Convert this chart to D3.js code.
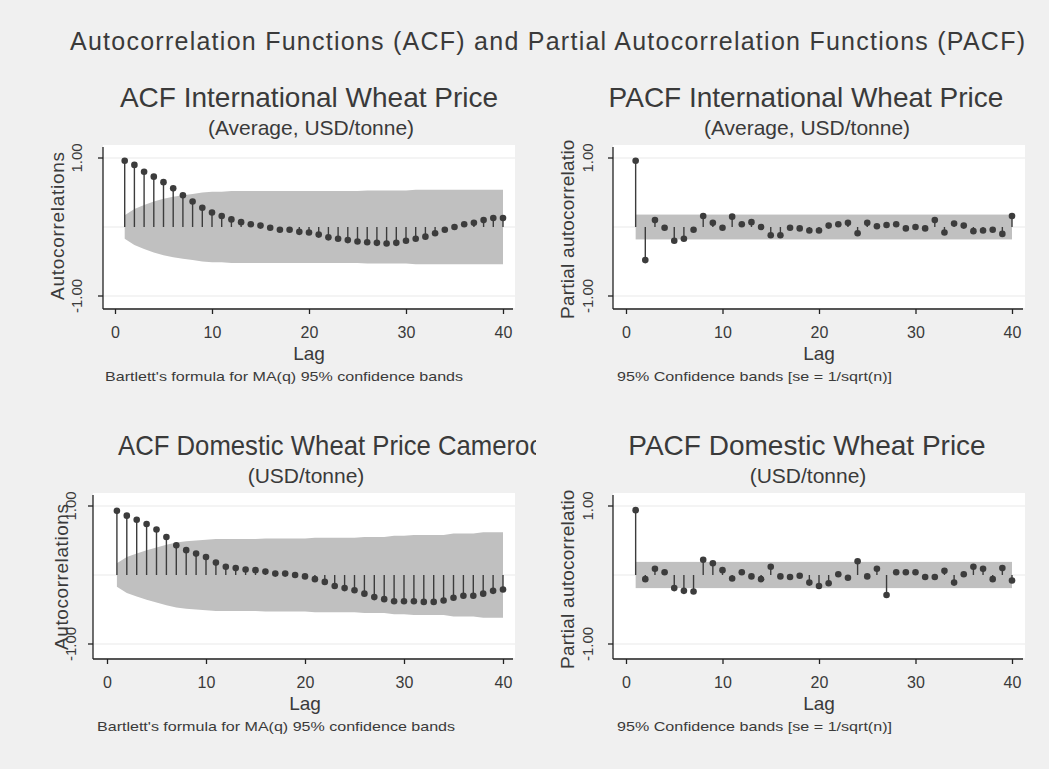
<!DOCTYPE html>
<html>
<head>
<meta charset="utf-8">
<script src="https://cdn.jsdelivr.net/npm/d3@7"></script>
<style>
  body { margin: 0; background: #f0f0f0; }
  svg { display: block; font-family: "Liberation Sans", Arial, sans-serif; }
</style>
</head>
<body>
<div id="chart"></div>
<script>
// ---- data ----
const lags = [1,2,3,4,5,6,7,8,9,10,11,12,13,14,15,16,17,18,19,20,
              21,22,23,24,25,26,27,28,29,30,31,32,33,34,35,36,37,38,39,40];

const acfIntl = [0.96,0.90,0.80,0.73,0.65,0.56,0.46,0.37,0.28,0.21,
                 0.16,0.11,0.07,0.04,0.02,-0.01,-0.04,-0.04,-0.07,-0.08,
                 -0.11,-0.15,-0.17,-0.19,-0.21,-0.22,-0.23,-0.24,-0.23,-0.20,
                 -0.17,-0.14,-0.09,-0.04,0.00,0.04,0.06,0.10,0.13,0.13];
const bandIntl = [0.17,0.26,0.32,0.37,0.41,0.44,0.46,0.48,0.50,0.51,
                  0.51,0.52,0.52,0.52,0.52,0.52,0.52,0.52,0.52,0.52,
                  0.52,0.52,0.52,0.52,0.52,0.53,0.53,0.53,0.53,0.53,
                  0.54,0.54,0.54,0.54,0.54,0.54,0.54,0.54,0.54,0.54];

const pacfIntl = [0.96,-0.48,0.10,-0.01,-0.20,-0.17,-0.04,0.16,0.06,-0.01,
                  0.15,0.04,0.07,0.00,-0.12,-0.12,-0.01,-0.02,-0.05,-0.05,
                  0.02,0.04,0.06,-0.09,0.06,0.01,0.03,0.04,-0.02,0.00,
                  -0.02,0.10,-0.08,0.05,0.02,-0.06,-0.05,-0.04,-0.10,0.16];
const pacfBandIntl = 0.18;

const acfDom = [0.93,0.86,0.80,0.74,0.66,0.55,0.43,0.36,0.31,0.26,
                0.18,0.12,0.10,0.08,0.07,0.05,0.02,0.02,0.00,-0.02,
                -0.06,-0.10,-0.16,-0.19,-0.22,-0.27,-0.32,-0.35,-0.38,-0.38,
                -0.38,-0.39,-0.39,-0.37,-0.33,-0.30,-0.30,-0.27,-0.23,-0.21];
const bandDom = [0.17,0.26,0.31,0.36,0.40,0.44,0.47,0.49,0.50,0.51,
                 0.52,0.52,0.52,0.52,0.52,0.53,0.53,0.53,0.53,0.53,
                 0.54,0.54,0.54,0.54,0.54,0.55,0.55,0.55,0.57,0.57,
                 0.58,0.58,0.58,0.58,0.60,0.60,0.60,0.62,0.62,0.62];

const pacfDom = [0.94,-0.06,0.09,0.04,-0.19,-0.23,-0.24,0.22,0.17,0.07,
                 -0.05,0.04,-0.02,-0.06,0.12,-0.02,-0.03,-0.01,-0.11,-0.16,
                 -0.12,0.01,-0.04,0.20,-0.02,0.09,-0.29,0.04,0.04,0.04,
                 -0.03,-0.03,0.06,-0.11,0.01,0.12,0.09,-0.06,0.10,-0.08];
const pacfBandDom = 0.19;

const xTicks = [0, 10, 20, 30, 40];
const yTicks = [-1, 1];
const yTickLabels = ['-1.00', '1.00'];
const gridVals = [-1, 0, 1];

const mainTitle = 'Autocorrelation Functions (ACF) and Partial Autocorrelation Functions (PACF)';
const noteACF = "Bartlett's formula for MA(q) 95% confidence bands";
const notePACF = '95% Confidence bands [se = 1/sqrt(n)]';

// ---- layout ----
const W = 1049, H = 769;
const INK = '#3a3a3a', MARK = '#3c3c3c', BAND = '#c0c0c0', AX = '#222';

const svg = d3.select('#chart').append('svg').attr('width', W).attr('height', H);
svg.append('rect').attr('width', W).attr('height', H).attr('fill', '#f0f0f0');
const defs = svg.append('defs');

svg.append('text')
  .attr('x', 70).attr('y', 50)
  .attr('textLength', 955).attr('lengthAdjust', 'spacing')
  .attr('font-size', 25).attr('fill', INK)
  .text(mainTitle);

// each panel: plot box, scale ranges and where its labels sit
const panels = [
  { id: 'p1', kind: 'acf', vals: acfIntl, band: bandIntl,
    box: [103, 145, 515, 308], xr: [115, 503], yr: [296, 158],
    title: 'ACF International Wheat Price', titleX: 309, sub: '(Average, USD/tonne)', subX: 311,
    ytitle: 'Autocorrelations', ytLen: 148, ytX: 57, ytY: 226, tickX: 77,
    note: noteACF, noteX: 105, noteLen: 358, clip: [0, 140, 536, 400] },
  { id: 'p2', kind: 'pacf', vals: pacfIntl, band: pacfBandIntl,
    box: [613, 145, 1025, 308], xr: [626, 1012], yr: [296, 158],
    title: 'PACF International Wheat Price', titleX: 806, sub: '(Average, USD/tonne)', subX: 807,
    ytitle: 'Partial autocorrelations', ytLen: 200, ytX: 567, ytY: 219, tickX: 588,
    note: notePACF, noteX: 617, noteLen: 275, clip: [540, 140, 1049, 400] },
  { id: 'p3', kind: 'acf', vals: acfDom, band: bandDom,
    box: [93, 493, 515, 658], xr: [107, 503], yr: [644, 506],
    title: 'ACF Domestic Wheat Price Cameroon', titleStart: 118, titleLen: 440, sub: '(USD/tonne)', subX: 306,
    ytitle: 'Autocorrelations', ytLen: 146, ytX: 61, ytY: 577, tickX: 71,
    note: noteACF, noteX: 97, noteLen: 358, clip: [0, 488, 536, 769] },
  { id: 'p4', kind: 'pacf', vals: pacfDom, band: pacfBandDom,
    box: [613, 493, 1025, 658], xr: [626, 1012], yr: [644, 506],
    title: 'PACF Domestic Wheat Price', titleX: 807, sub: '(USD/tonne)', subX: 808,
    ytitle: 'Partial autocorrelations', ytLen: 200, ytX: 567, ytY: 569, tickX: 588,
    note: notePACF, noteX: 617, noteLen: 275, clip: [540, 488, 1049, 769] }
];

panels.forEach(p => {
  const [L, T, R, B] = p.box;
  const x = d3.scaleLinear().domain([0, 40]).range(p.xr);
  const y = d3.scaleLinear().domain([-1, 1]).range(p.yr);
  const g = svg.append('g');

  defs.append('clipPath').attr('id', 'tc-' + p.id).append('rect')
    .attr('x', p.clip[0]).attr('y', 0).attr('width', p.clip[2] - p.clip[0]).attr('height', H);
  defs.append('clipPath').attr('id', 'yc-' + p.id).append('rect')
    .attr('x', p.clip[0]).attr('y', p.clip[1])
    .attr('width', p.clip[2] - p.clip[0]).attr('height', p.clip[3] - p.clip[1]);

  // titles (the long one gets cut at the panel edge, as in the original)
  const tt = g.append('g').attr('clip-path', `url(#tc-${p.id})`)
    .append('text')
    .attr('y', T - 38).attr('font-size', 28).attr('fill', INK)
    .text(p.title);
  if (p.titleStart != null) {
    tt.attr('x', p.titleStart).attr('textLength', p.titleLen).attr('lengthAdjust', 'spacingAndGlyphs');
  } else {
    tt.attr('x', p.titleX).attr('text-anchor', 'middle');
  }
  g.append('text')
    .attr('x', p.subX).attr('y', T - 10).attr('text-anchor', 'middle')
    .attr('font-size', 21).attr('fill', INK)
    .text(p.sub);

  // plot region
  g.append('rect').attr('x', L).attr('y', T).attr('width', R - L).attr('height', B - T).attr('fill', '#fff');
  g.selectAll('line.grid').data(gridVals).join('line')
    .attr('x1', L).attr('x2', R).attr('y1', d => y(d)).attr('y2', d => y(d))
    .attr('stroke', '#e9e9e9').attr('stroke-width', 1);

  // confidence band
  if (p.kind === 'acf') {
    const area = d3.area()
      .x((d, i) => x(lags[i]))
      .y0((d, i) => y(-p.band[i]))
      .y1((d, i) => y(p.band[i]));
    g.append('path').datum(lags).attr('d', area).attr('fill', BAND);
  } else {
    g.append('rect')
      .attr('x', x(lags[0])).attr('width', x(lags[lags.length - 1]) - x(lags[0]))
      .attr('y', y(p.band)).attr('height', y(-p.band) - y(p.band))
      .attr('fill', BAND);
  }

  // stems and markers
  g.selectAll('line.stem').data(p.vals).join('line')
    .attr('x1', (d, i) => x(lags[i])).attr('x2', (d, i) => x(lags[i]))
    .attr('y1', y(0)).attr('y2', d => y(d))
    .attr('stroke', MARK).attr('stroke-width', 1.4);
  g.selectAll('circle').data(p.vals).join('circle')
    .attr('cx', (d, i) => x(lags[i])).attr('cy', d => y(d)).attr('r', 3.3)
    .attr('fill', MARK);

  // axes
  g.append('line').attr('x1', L).attr('x2', L).attr('y1', T + 2).attr('y2', B + 1)
    .attr('stroke', AX).attr('stroke-width', 1.3);
  g.append('line').attr('x1', L).attr('x2', R - 2).attr('y1', B + 1).attr('y2', B + 1)
    .attr('stroke', AX).attr('stroke-width', 1.3);

  const xa = g.append('g').attr('transform', `translate(0,${B + 1})`)
    .call(d3.axisBottom(x).tickValues(xTicks).tickSize(5).tickPadding(13));
  xa.select('.domain').remove();
  xa.selectAll('line').attr('stroke', AX).attr('stroke-width', 1.3);
  xa.selectAll('text').attr('font-size', 16).attr('fill', INK)
    .attr('font-family', '"Liberation Sans", Arial, sans-serif');

  g.selectAll('line.ytick').data(yTicks).join('line')
    .attr('x1', L - 5).attr('x2', L).attr('y1', d => y(d)).attr('y2', d => y(d))
    .attr('stroke', AX).attr('stroke-width', 1.3);
  g.selectAll('text.ylab').data(yTicks).join('text')
    .attr('transform', d => `translate(${p.tickX},${y(d)}) rotate(-90)`)
    .attr('text-anchor', 'middle').attr('dy', '0.35em')
    .attr('font-size', 15).attr('fill', INK)
    .text((d, i) => yTickLabels[i]);

  // axis titles
  g.append('g').attr('clip-path', `url(#yc-${p.id})`)
    .append('text')
    .attr('transform', `translate(${p.ytX},${p.ytY}) rotate(-90)`)
    .attr('text-anchor', 'middle').attr('dy', '0.35em')
    .attr('textLength', p.ytLen).attr('lengthAdjust', 'spacing')
    .attr('font-size', 19).attr('fill', INK)
    .text(p.ytitle);

  g.append('text')
    .attr('x', x(20)).attr('y', B + 52).attr('text-anchor', 'middle')
    .attr('font-size', 19).attr('fill', INK).text('Lag');

  g.append('text')
    .attr('x', p.noteX).attr('y', B + 73)
    .attr('textLength', p.noteLen).attr('lengthAdjust', 'spacingAndGlyphs')
    .attr('font-size', 13).attr('fill', INK)
    .text(p.note);
});
</script>
</body>
</html>
